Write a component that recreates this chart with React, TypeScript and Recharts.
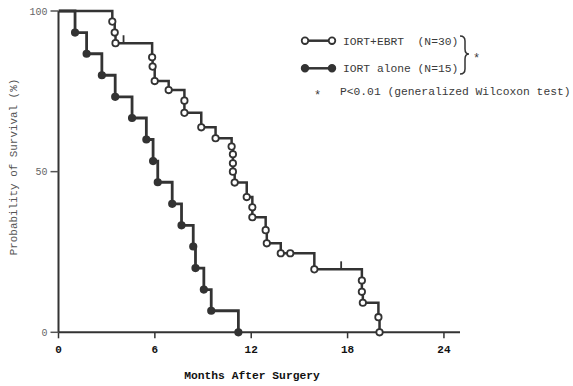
import React from 'react';
import { LineChart, Line, XAxis, YAxis, Legend } from 'recharts';

// Months and survival (%) at each death
const ebrtEventMonths = [3.35, 3.5, 3.55, 5.83, 5.86, 5.99, 6.86, 7.84, 7.84, 8.89, 9.78, 10.78, 10.86, 10.86, 10.86, 10.97, 11.72, 12.07, 12.07, 12.9, 12.97, 13.84, 14.43, 15.93, 18.89, 18.89, 18.95, 19.92, 19.99];
const ebrtEventSurvival = [96.7, 93.3, 90, 85.6, 82.7, 78.2, 75.4, 72.1, 68.3, 63.8, 60.4, 57.8, 55.4, 52.6, 50.0, 46.6, 42.1, 38.9, 35.8, 31.8, 27.7, 24.6, 24.6, 19.6, 16.1, 12.6, 9.2, 4.7, 0];
const ebrtCensorMonths = [4.05, 17.6];
const ebrtCensorSurvival = [90, 19.6];

const aloneEventMonths = [1.03, 1.75, 2.7, 3.53, 4.58, 5.47, 5.89, 6.18, 7.08, 7.66, 8.39, 8.53, 9.05, 9.51, 11.2];
const aloneEventSurvival = [93.3, 86.7, 80, 73.3, 66.7, 60, 53.3, 46.7, 40, 33.3, 26.7, 20, 13.3, 6.7, 0];

const monthTicks = [0, 6, 12, 18, 24];
const survivalTicks = [0, 50, 100];

const legendLabels = ['IORT+EBRT  (N=30)', 'IORT alone (N=15)'];
const noteLabel = 'P<0.01 (generalized Wilcoxon test)';

type Pt = { t: number; s: number; kind: string };

function buildCurve(months: number[], surv: number[], cm: number[] = [], cs: number[] = []): Pt[] {
  const pts: Pt[] = [{ t: 0, s: 100, kind: 'start' }];
  const rest: Pt[] = [];
  months.forEach((m, i) => rest.push({ t: m, s: surv[i], kind: 'death' }));
  cm.forEach((m, i) => rest.push({ t: m, s: cs[i], kind: 'censor' }));
  rest.sort((a, b) => a.t - b.t);
  return pts.concat(rest);
}

const ebrtData = buildCurve(ebrtEventMonths, ebrtEventSurvival, ebrtCensorMonths, ebrtCensorSurvival);
const aloneData = buildCurve(aloneEventMonths, aloneEventSurvival);

const INK = '#333';
const MONO = '"Liberation Mono", "DejaVu Sans Mono", monospace';

const makeDot = (filled: boolean) => (props: any) => {
  const { cx, cy, payload, index } = props;
  if (!payload || payload.kind === 'start') return <g key={`s-${index}`} />;
  if (payload.kind === 'censor') {
    return <line key={`c-${index}`} x1={cx} x2={cx} y1={cy} y2={cy - 8} stroke={INK} strokeWidth={1.8} />;
  }
  return (
    <circle key={`d-${index}`} cx={cx} cy={cy} r={3.2} fill={filled ? INK : '#fff'} stroke={INK} strokeWidth={1.8} />
  );
};

const LegendBox = () => (
  <svg width={573} height={386} style={{ position: 'absolute', left: 0, top: 0 }}>
    <g fontFamily={MONO} fontSize={11.3} fill="#3a3a3a">
      <line x1={305} x2={332} y1={40.7} y2={40.7} stroke={INK} strokeWidth={2.5} />
      <circle cx={305} cy={40.7} r={3.3} fill="#fff" stroke={INK} strokeWidth={1.8} />
      <circle cx={332} cy={40.7} r={3.3} fill="#fff" stroke={INK} strokeWidth={1.8} />
      <text x={343} y={44.5} style={{ whiteSpace: 'pre' }}>{legendLabels[0]}</text>
      <line x1={305} x2={332} y1={68.3} y2={68.3} stroke={INK} strokeWidth={2.5} />
      <circle cx={305} cy={68.3} r={3.3} fill={INK} stroke={INK} strokeWidth={1.8} />
      <circle cx={332} cy={68.3} r={3.3} fill={INK} stroke={INK} strokeWidth={1.8} />
      <text x={343} y={72.1} style={{ whiteSpace: 'pre' }}>{legendLabels[1]}</text>
      <path d="M460,36 Q465,36 465,41 L465,49 Q465,54 469,54 Q465,54 465,59 L465,69 Q465,74 460,74" fill="none" stroke={INK} strokeWidth={1.5} />
      <text x={473} y={62} fontSize={12}>*</text>
      <text x={314} y={99} fontSize={12}>*</text>
      <text x={340} y={94.5} style={{ whiteSpace: 'pre' }}>{noteLabel}</text>
    </g>
  </svg>
);

export default function App() {
  return (
    <div style={{ position: 'absolute', left: 0, top: 0, width: 573, height: 386, background: '#fff', fontFamily: MONO }}>
      <LineChart width={573} height={386} margin={{ top: 11, right: 113, left: 0, bottom: 0 }}>
        <XAxis
          type="number"
          dataKey="t"
          domain={[0, 25]}
          ticks={monthTicks}
          allowDataOverflow
          height={53.7}
          tickSize={6}
          tickMargin={7}
          axisLine={{ stroke: INK, strokeWidth: 2 }}
          tickLine={{ stroke: INK, strokeWidth: 1.5 }}
          tick={{ fill: '#111', fontSize: 11, fontFamily: MONO, fontWeight: 'bold' }}
          label={{
            content: () => (
              <text x={252} y={379} textAnchor="middle" fontFamily={MONO} fontSize={11.3} fontWeight="bold" fill="#111">
                Months After Surgery
              </text>
            ),
          }}
        />
        <YAxis
          type="number"
          dataKey="s"
          domain={[0, 100]}
          ticks={survivalTicks}
          width={58.5}
          tickSize={8}
          tickMargin={3}
          axisLine={{ stroke: INK, strokeWidth: 2 }}
          tickLine={{ stroke: '#555', strokeWidth: 1.5 }}
          tick={{ fill: '#666', fontSize: 10, fontFamily: MONO }}
          label={{
            content: () => (
              <text x={17} y={167} textAnchor="middle" transform="rotate(-90 17 167)" fontFamily={MONO} fontSize={10.9} fill="#555">
                Probability of Survival (%)
              </text>
            ),
          }}
        />
        <Line
          data={aloneData}
          dataKey="s"
          type="stepAfter"
          stroke={INK}
          strokeWidth={2.8}
          dot={makeDot(true)}
          activeDot={false}
          isAnimationActive={false}
        />
        <Line
          data={ebrtData}
          dataKey="s"
          type="stepAfter"
          stroke={INK}
          strokeWidth={2.5}
          dot={makeDot(false)}
          activeDot={false}
          isAnimationActive={false}
        />
        <Legend
          layout="horizontal"
          verticalAlign="middle"
          align="center"
          wrapperStyle={{ position: 'absolute', left: 0, top: 0, width: 573, height: 386, pointerEvents: 'none' }}
          content={() => <LegendBox />}
        />
      </LineChart>
    </div>
  );
}
